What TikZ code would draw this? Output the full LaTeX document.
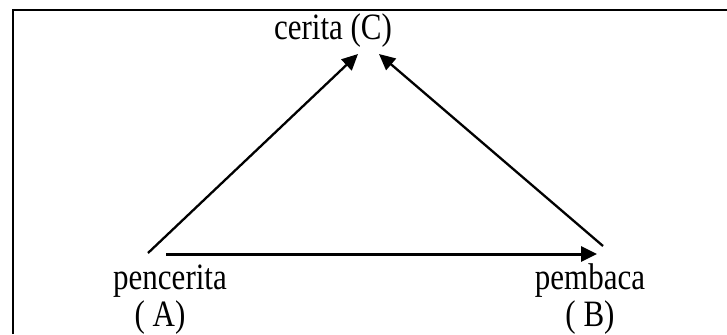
\documentclass[tikz,border=0pt]{standalone}
\usepackage{fontspec}
\setmainfont{Liberation Serif}
\usepackage{tikz}
\usetikzlibrary{arrows.meta,positioning}

\newcommand{\talltext}[1]{\scalebox{1}[1.2]{#1}}

\tikzset{
  lbl/.style={inner sep=0pt, anchor=base, font=\fontsize{15.5}{18}\selectfont},
  arr/.style={-{Triangle[length=8pt,width=7.5pt]}, line width=1.15pt},
  frameline/.style={line width=1pt}
}

\begin{document}
\begin{tikzpicture}[x=0.5pt, y=-0.5pt]
  \useasboundingbox (0,0) rectangle (727,334);
  % frame (only top and left edges show)
  \draw[frameline] (12.5,334) -- (12.5,10) -- (727,10);

  % labels
  \node[lbl] (C) at (333,39) {\talltext{cerita (C)}};
  \node[lbl] (A) at (170,289) {\talltext{pencerita}};
  \node[lbl] (Aid) at (160,326) {\talltext{( A)}};
  \node[lbl] (B) at (590,289) {\talltext{pembaca}};
  \node[lbl] (Bid) at (590,326) {\talltext{( B)}};

  % arrow ends
  \coordinate (A-up) at (148,253);
  \coordinate (A-right) at (166,254);
  \coordinate (B-up) at (603,246);
  \coordinate (B-left) at (597,254);
  \coordinate (C-left) at (358,54);
  \coordinate (C-right) at (379,54);

  \draw[arr] (A-up) -- (C-left);
  \draw[arr] (B-up) -- (C-right);
  \draw[arr, line width=1.5pt] (A-right) -- (B-left);
\end{tikzpicture}
\end{document}
